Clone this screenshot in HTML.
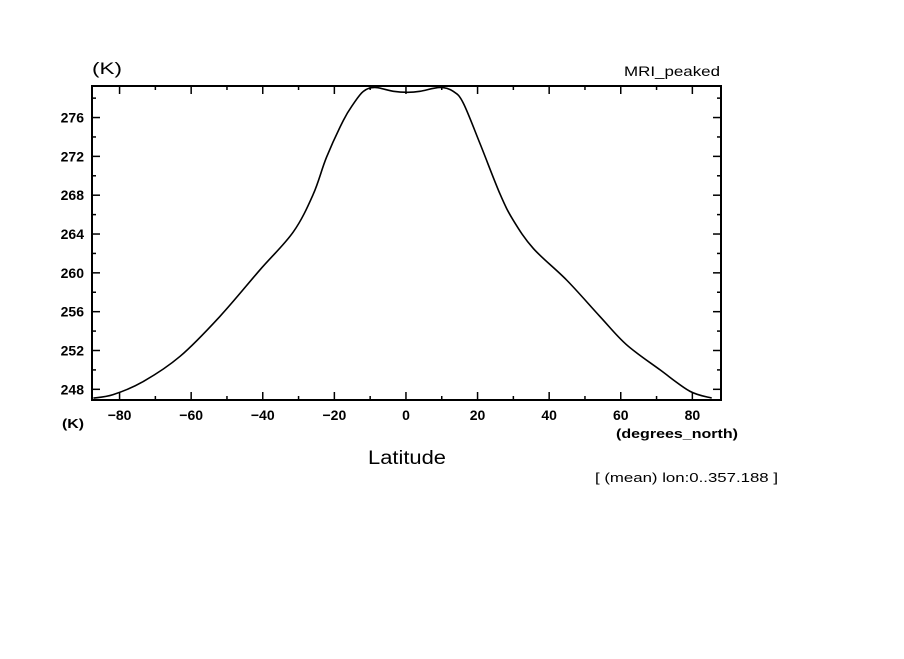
<!DOCTYPE html>
<html><head><meta charset="utf-8"><style>
body{margin:0;background:#fff;}
svg text{font-family:"Liberation Sans",sans-serif;fill:#000;}
</style></head><body>
<svg id="chart" width="904" height="654" xmlns="http://www.w3.org/2000/svg">
<rect width="904" height="654" fill="#fff"/>
<g id="ticks"></g>
<g id="labels"></g>
<path id="line" fill="none" stroke="#000" stroke-width="1.6"/>
<rect x="92" y="86" width="629" height="314" fill="none" stroke="#000" stroke-width="2"/>
<text x="92" y="74" font-size="17" textLength="30" lengthAdjust="spacingAndGlyphs">(K)</text>
<text x="624" y="76" font-size="14" textLength="96" lengthAdjust="spacingAndGlyphs">MRI_peaked</text>
<text x="62" y="428" font-size="13" font-weight="bold" textLength="22" lengthAdjust="spacingAndGlyphs">(K)</text>
<text x="616" y="438" font-size="13" font-weight="bold" textLength="122" lengthAdjust="spacingAndGlyphs">(degrees_north)</text>
<text x="368" y="464" font-size="19" textLength="78" lengthAdjust="spacingAndGlyphs">Latitude</text>
<text x="595" y="482" font-size="13" textLength="183" lengthAdjust="spacingAndGlyphs">[ (mean) lon:0..357.188 ]</text>
</svg>
<script>
const lats=[-87.3,-81.8,-73.4,-63.1,-52,-40.8,-31.5,-25.9,-22.2,-17.5,-14.7,-11.9,-8.7,-3.5,0.5,3.9,9.5,13.2,16,20.7,26.3,30,35.6,44.9,54.2,61.6,71,79.3,85.4];
const temps=[247.1,247.45,248.8,251.4,255.5,260.3,264.2,268.1,271.9,275.7,277.4,278.7,279.1,278.7,278.6,278.7,279.1,278.7,277.5,273.3,268.1,265.4,262.5,259.25,255.5,252.6,250.0,247.8,247.1];
const xTicks=[-80,-60,-40,-20,0,20,40,60,80];
const yTicks=[248,252,256,260,264,268,272,276];
const L=92,R=721,T=86,B=400;
const xMin=-87.7,xMax=88.0,yMin=246.9,yMax=279.25;
const sx=v=>L+(v-xMin)/(xMax-xMin)*(R-L);
const sy=v=>B-(v-yMin)/(yMax-yMin)*(B-T);
const NS="http://www.w3.org/2000/svg";
const tg=document.getElementById('ticks'),lg=document.getElementById('labels');
function ln(x1,y1,x2,y2){const l=document.createElementNS(NS,'line');
l.setAttribute('x1',x1);l.setAttribute('y1',y1);l.setAttribute('x2',x2);l.setAttribute('y2',y2);
l.setAttribute('stroke','#000');l.setAttribute('stroke-width','1.5');


tg.appendChild(l);}
for(let v=-80;v<=80;v+=10){const x=sx(v),m=(v%20===0)?8:4;ln(x,B,x,B-m);ln(x,T,x,T+m);}
for(let v=248;v<=279;v+=2){const y=sy(v),m=(v%4===0)?8:4;ln(L,y,L+m,y);ln(R,y,R-m,y);}
xTicks.forEach(v=>{const t=document.createElementNS(NS,'text');
t.setAttribute('x',sx(v));t.setAttribute('y',B+20);t.setAttribute('text-anchor','middle');
t.setAttribute('font-size','14');t.setAttribute('font-weight','bold');


t.textContent=v<0?'\u2212'+(-v):v;lg.appendChild(t);});
yTicks.forEach(v=>{const t=document.createElementNS(NS,'text');
t.setAttribute('x',84);t.setAttribute('y',sy(v)+5);t.setAttribute('text-anchor','end');
t.setAttribute('font-size','14');t.setAttribute('font-weight','bold');


t.textContent=v;lg.appendChild(t);});
const pts=lats.map((v,i)=>[sx(v),sy(temps[i])]);
let d='M'+pts[0][0]+','+pts[0][1];
for(let i=0;i<pts.length-1;i++){const p0=pts[Math.max(0,i-1)],p1=pts[i],p2=pts[i+1],p3=pts[Math.min(pts.length-1,i+2)];
const c1=[p1[0]+(p2[0]-p0[0])/6,p1[1]+(p2[1]-p0[1])/6],c2=[p2[0]-(p3[0]-p1[0])/6,p2[1]-(p3[1]-p1[1])/6];
d+=' C'+c1+' '+c2+' '+p2;}
document.getElementById('line').setAttribute('d',d);
</script>
</body></html>
